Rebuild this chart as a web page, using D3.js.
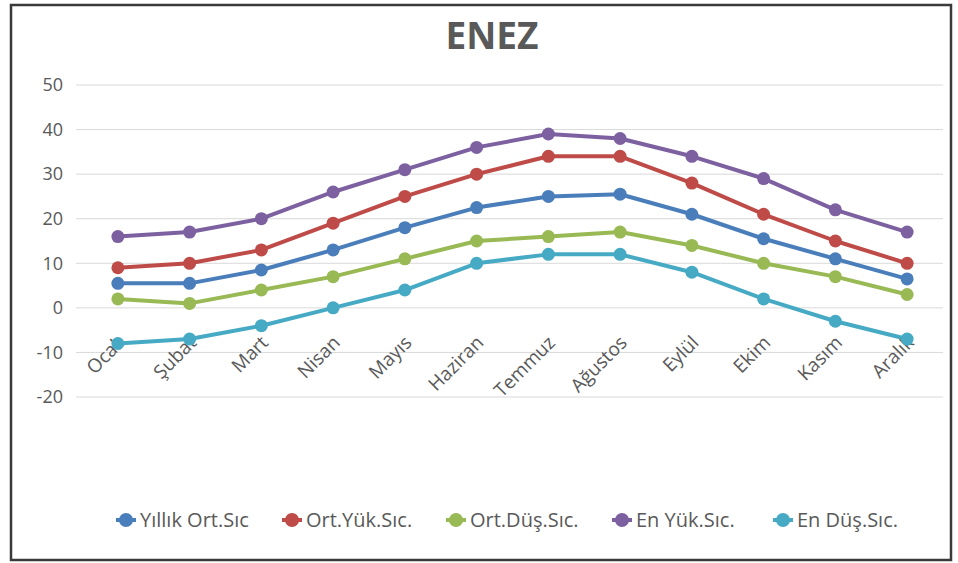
<!DOCTYPE html>
<html>
<head>
<meta charset="utf-8">
<script src="https://cdn.jsdelivr.net/npm/d3@7"></script>
<style>
  body { margin: 0; background: #fff; }
  text { font-family: "Open Sans", "Liberation Sans", sans-serif; }
</style>
</head>
<body>
<div class="chart"></div>
<script>
const months = ["Ocak", "Şubat", "Mart", "Nisan", "Mayıs", "Haziran", "Temmuz", "Ağustos", "Eylül", "Ekim", "Kasım", "Aralık"];
const yillikOrt = [5.5, 5.5, 8.5, 13, 18, 22.5, 25, 25.5, 21, 15.5, 11, 6.5];
const ortYuk = [9, 10, 13, 19, 25, 30, 34, 34, 28, 21, 15, 10];
const ortDus = [2, 1, 4, 7, 11, 15, 16, 17, 14, 10, 7, 3];
const enYuk = [16, 17, 20, 26, 31, 36, 39, 38, 34, 29, 22, 17];
const enDus = [-8, -7, -4, 0, 4, 10, 12, 12, 8, 2, -3, -7];
const yTicks = [-20, -10, 0, 10, 20, 30, 40, 50];

const series = [
  { name: "Yıllık Ort.Sıc", values: yillikOrt, color: "#4a7ebb" },
  { name: "Ort.Yük.Sıc.", values: ortYuk, color: "#be4b48" },
  { name: "Ort.Düş.Sıc.", values: ortDus, color: "#98b954" },
  { name: "En Yük.Sıc.", values: enYuk, color: "#7d60a0" },
  { name: "En Düş.Sıc.", values: enDus, color: "#46aac5" }
];

const W = 958, H = 563;
const svg = d3.select(".chart").append("svg")
  .attr("width", W)
  .attr("height", H);

// frame
svg.append("rect")
  .attr("x", 11).attr("y", 5)
  .attr("width", 940).attr("height", 555)
  .attr("fill", "#fff")
  .attr("stroke", "#3a3a3a")
  .attr("stroke-width", 2.5);

const x = d3.scaleBand().domain(months).range([82, 943]);
const y = d3.scaleLinear().domain([-20, 50]).range([397, 85]);
const cx = d => x(d) + x.bandwidth() / 2;

// title
svg.append("text")
  .attr("x", 492).attr("y", 49)
  .attr("text-anchor", "middle")
  .attr("font-size", 37)
  .attr("font-weight", "bold")
  .attr("fill", "#595959")
  .text("ENEZ");

// gridlines
svg.append("g").selectAll("line")
  .data(yTicks)
  .enter().append("line")
  .attr("x1", 76).attr("x2", 943)
  .attr("y1", d => y(d)).attr("y2", d => y(d))
  .attr("stroke", "#d9d9d9")
  .attr("stroke-width", 1);

// y-axis
const yAxis = svg.append("g")
  .attr("transform", "translate(63,0)")
  .call(d3.axisLeft(y).tickValues(yTicks).tickFormat(d => String(d)).tickSize(0).tickPadding(0));
yAxis.select(".domain").remove();
yAxis.selectAll("text")
  .attr("font-size", 18)
  .attr("fill", "#595959")
  .style("font-family", "'Open Sans', sans-serif");

// x-axis labels
const xAxis = svg.append("g")
  .attr("transform", `translate(0,${y(0)})`)
  .call(d3.axisBottom(x).tickSize(0).tickPadding(0));
xAxis.select(".domain").remove();
xAxis.selectAll("text")
  .attr("font-size", 19)
  .attr("fill", "#595959")
  .style("font-family", "'Open Sans', sans-serif")
  .attr("text-anchor", "end")
  .attr("dy", null)
  .attr("y", 0)
  .attr("transform", "translate(8,36) rotate(-45)");

// lines and markers
const line = d3.line()
  .x((d, i) => cx(months[i]))
  .y(d => y(d));

series.forEach(s => {
  const g = svg.append("g");
  g.append("path")
    .datum(s.values)
    .attr("d", line)
    .attr("fill", "none")
    .attr("stroke", s.color)
    .attr("stroke-width", 4)
    .attr("stroke-linejoin", "round");
  g.selectAll("circle")
    .data(s.values)
    .enter().append("circle")
    .attr("cx", (d, i) => cx(months[i]))
    .attr("cy", d => y(d))
    .attr("r", 6.5)
    .attr("fill", s.color);
});

// legend
const legendX = [126, 292, 456, 622, 783];
const legend = svg.append("g").selectAll("g")
  .data(series)
  .enter().append("g")
  .attr("transform", (d, i) => `translate(${legendX[i]},520)`);
legend.append("line")
  .attr("x1", -10).attr("x2", 10)
  .attr("stroke", d => d.color)
  .attr("stroke-width", 4);
legend.append("circle")
  .attr("r", 7)
  .attr("fill", d => d.color);
legend.append("text")
  .attr("x", 14).attr("y", 7)
  .attr("font-size", 20)
  .attr("fill", "#595959")
  .text(d => d.name);
</script>
</body>
</html>
